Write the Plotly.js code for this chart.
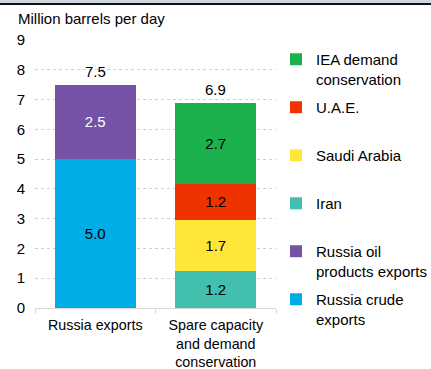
<!DOCTYPE html>
<html>
<head>
<meta charset="utf-8">
<script src="https://cdn.plot.ly/plotly-3.0.1.min.js"></script>
<style>
html,body{margin:0;padding:0;background:#fff;}
#band{position:absolute;left:0;top:0;width:431px;height:3px;background:#cfd6e0;}
#rule{position:absolute;left:0;top:3px;width:431px;height:2px;background:#111;}
#chart{position:absolute;left:0;top:0;width:431px;height:369px;}
</style>
</head>
<body>
<div id="chart"></div>
<div id="band"></div>
<div id="rule"></div>
<script>
const categories = ["Russia exports", "Spare capacity<br>and demand<br>conservation"];
const russiaCrude = [5.0, null];
const russiaProducts = [2.5, null];
const iran = [null, 1.24];
const saudi = [null, 1.72];
const uae = [null, 1.21];
const ieaDemand = [null, 2.73];
const totals = [7.5, 6.9];
const yTicks = [0,1,2,3,4,5,6,7,8,9];

const FONT = "Liberation Sans, Arial, sans-serif";
const FS = 15;

function barTrace(name, y, color, textColor, rank) {
  return {
    type: 'bar', x: categories, y: y, name: name,
    marker: {color: color, line: {width: 0}},
    texttemplate: '%{y:.1f}', textposition: 'inside', insidetextanchor: 'middle',
    textangle: 0, constraintext: 'none',
    insidetextfont: {family: FONT, size: FS, color: textColor},
    legendgroup: 'g' + rank, legendrank: rank,
    hoverinfo: 'skip'
  };
}

const data = [
  barTrace('Russia crude<br>exports', russiaCrude, '#00ADE6', '#000', 6),
  barTrace('Russia oil<br>products exports', russiaProducts, '#7652A6', '#fff', 5),
  barTrace('Iran<br> ', iran, '#43BFAE', '#000', 4),
  barTrace('Saudi Arabia<br> ', saudi, '#FFE739', '#000', 3),
  barTrace('U.A.E.<br> ', uae, '#EE3300', '#000', 2),
  barTrace('IEA demand<br>conservation', ieaDemand, '#1DB14D', '#000', 1)
];

const totalLabels = categories.map((c, i) => ({
  x: c, y: totals[i], xref: 'x', yref: 'y', text: totals[i].toFixed(1),
  showarrow: false, yanchor: 'bottom', yshift: 3,
  font: {family: FONT, size: FS, color: '#000'}
}));

const layout = {
  width: 431, height: 369,
  margin: {l: 35, r: 153, t: 40, b: 61},
  paper_bgcolor: '#fff', plot_bgcolor: '#fff',
  font: {family: FONT, size: FS, color: '#000'},
  barmode: 'stack', bargap: 0.33,
  annotations: totalLabels,
  title: {text: 'Million barrels per day', x: 18/431, xanchor: 'left', xref: 'container',
          y: 1 - 19/369, yanchor: 'middle', yref: 'container',
          font: {family: FONT, size: FS, color: '#000'}},
  xaxis: {
    showgrid: false, showline: true, linecolor: '#d9d9d9', linewidth: 1,
    ticks: 'outside', tickson: 'boundaries', ticklen: 5, tickcolor: '#d9d9d9',
    ticklabelstandoff: 4,
    tickfont: {family: FONT, size: 14.3, color: '#000'}, fixedrange: true
  },
  yaxis: {
    range: [0, 9], tickvals: yTicks, showgrid: true, gridcolor: '#cfcfcf', griddash: 'dot',
    gridwidth: 1, zeroline: false, showline: false, ticks: '', ticklabelstandoff: 9,
    tickfont: {family: FONT, size: FS, color: '#000'}, fixedrange: true
  },
  showlegend: true,
  legend: {
    traceorder: 'grouped', tracegroupgap: 6, valign: 'top', maxheight: 400,
    xref: 'container', yref: 'container', x: 276/431, xanchor: 'left',
    y: 1 - 43/369, yanchor: 'top',
    font: {family: FONT, size: FS, color: '#000'}, bgcolor: 'rgba(0,0,0,0)', borderwidth: 0
  }
};

Plotly.newPlot('chart', data, layout, {displayModeBar: false, staticPlot: true});
</script>
</body>
</html>
